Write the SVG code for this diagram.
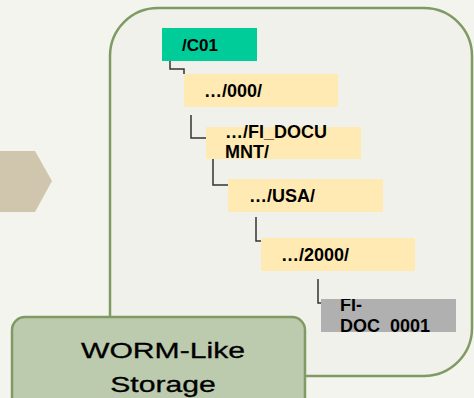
<svg xmlns="http://www.w3.org/2000/svg" width="474" height="398" viewBox="0 0 474 398">
<style>
.lbl{font-family:"Liberation Sans",Arial,sans-serif;font-weight:bold;font-size:18px;fill:#000}
.yel{fill:#ffeab4}
.con{fill:none;stroke:#333;stroke-width:1.5}
.big{font-family:"Liberation Sans",Arial,sans-serif;font-size:22px;fill:#000;stroke:#000;stroke-width:0.3;text-anchor:middle}
</style>
<defs>
<clipPath id="gclip"><rect x="321" y="299" width="135" height="33"/></clipPath>
</defs>
<rect width="474" height="398" fill="#f4f4ef"/>
<g id="arrow"><polygon points="0,151 35,151 52,181 35,212 0,212" fill="#d0c6ae"/></g>
<g id="panel"><rect x="110" y="8" width="362" height="368" rx="48" fill="#f0f1ea" stroke="#809a64" stroke-width="2.5"/></g>
<g id="connectors">
<path class="con" d="M170,61 V69 H184 V74"/>
<path class="con" d="M191,115 V138 H206"/>
<path class="con" d="M213,159 V185 H228"/>
<path class="con" d="M256,217 V241 H261"/>
<path class="con" d="M318,279 V303 H321"/>
</g>
<g id="n-c01"><rect x="162" y="28" width="95" height="33" fill="#00cc99"/><text class="lbl" x="182" y="51" style="font-size:17px">/C01</text></g>
<g id="n-000"><rect class="yel" x="184" y="74" width="154" height="33"/><text class="lbl" x="204" y="97">…/000/</text></g>
<g id="n-fidoc"><rect class="yel" x="206" y="127" width="155" height="32"/><text class="lbl" x="225" y="138">…/FI_DOCU</text><text class="lbl" x="225" y="158">MNT/</text></g>
<g id="n-usa"><rect class="yel" x="228" y="179" width="155" height="33"/><text class="lbl" x="249" y="202">…/USA/</text></g>
<g id="n-2000"><rect class="yel" x="261" y="238" width="154" height="33"/><text class="lbl" x="281" y="261">…/2000/</text></g>
<g id="n-doc"><rect x="321" y="299" width="135" height="33" fill="#b0b0b0"/><g clip-path="url(#gclip)"><text class="lbl" x="340" y="311">FI-</text><text class="lbl" x="340" y="332">DOC_0001</text></g></g>
<g id="n-worm"><rect x="12" y="317" width="293" height="100" rx="13" fill="#bccaae" stroke="#809a64" stroke-width="2.5"/><g transform="translate(163,0) scale(1.37,1)"><text class="big" x="0" y="358">WORM-Like</text><text class="big" x="0" y="392">Storage</text></g></g>
</svg>
